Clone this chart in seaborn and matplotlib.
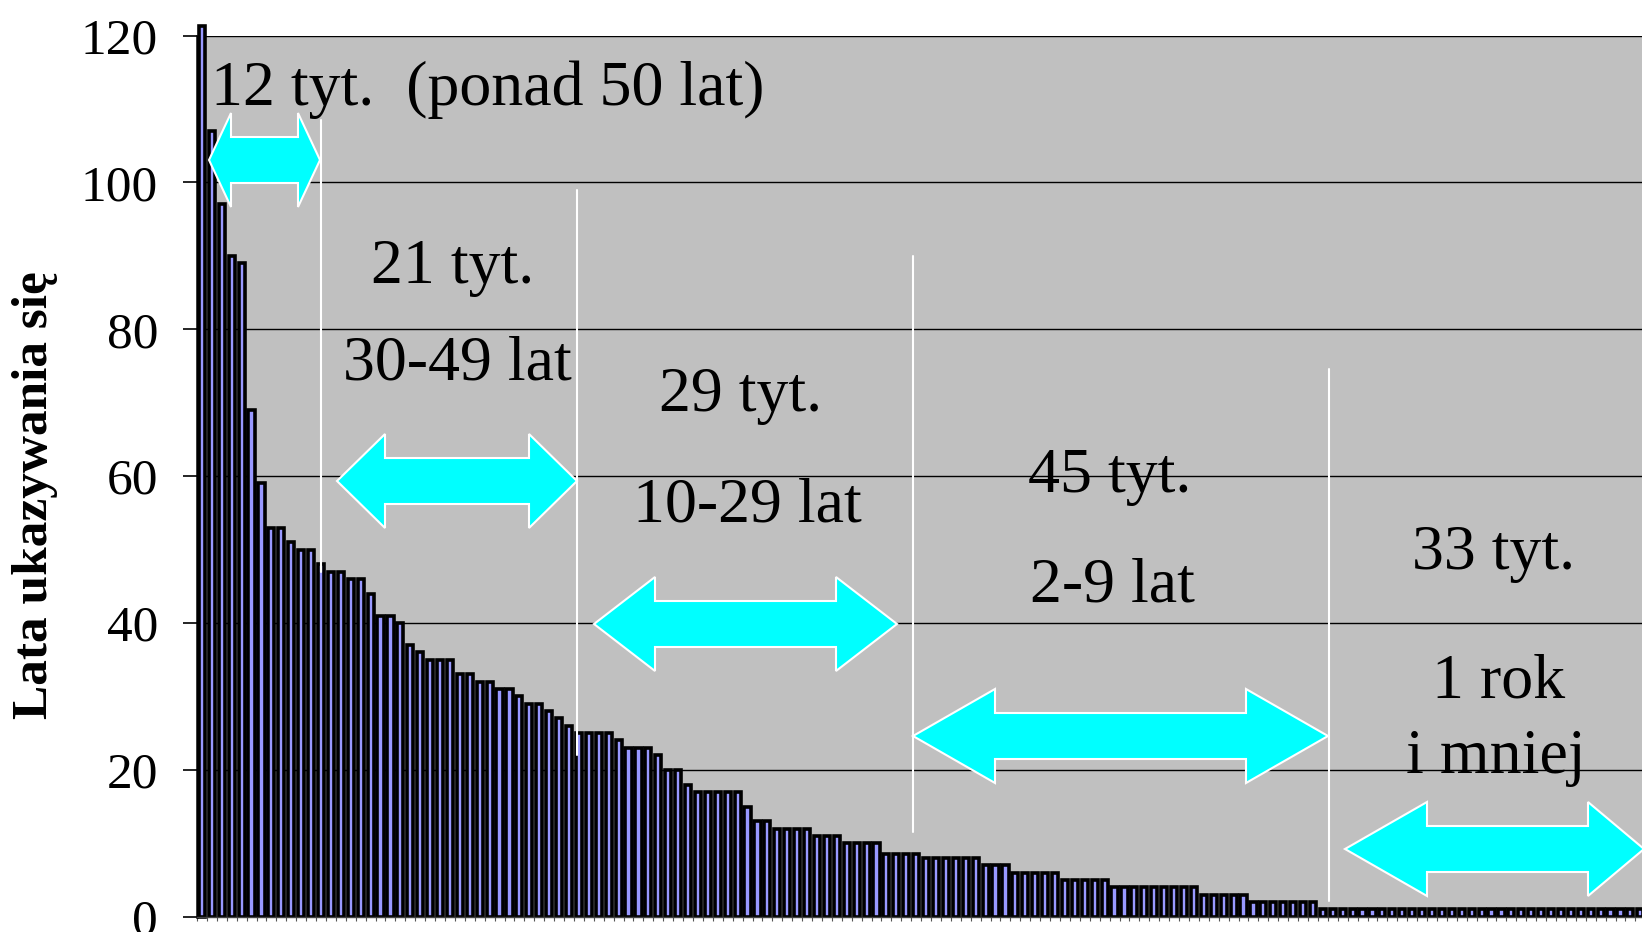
import numpy as np
import pandas as pd
import matplotlib
matplotlib.use("Agg")
import matplotlib.pyplot as plt
from matplotlib.patches import Polygon
import seaborn as sns

# lata ukazywania sie - kolejne tytuly, posortowane malejaco
over_50 = [121.3, 107, 97, 90, 89, 69, 59, 53, 53, 51, 50, 50]
y30_49 = [48, 47, 47, 46, 46, 44, 41, 41, 40, 37, 36, 35, 35, 35, 33, 33, 32, 32, 31, 31, 30]
y10_29 = [29, 29, 28, 27, 26, 25, 25, 25, 25, 24, 23, 23, 23, 22, 20, 20, 18,
          17, 17, 17, 17, 17, 15, 13, 13, 12, 12, 12, 12, 11, 11, 11, 10, 10, 10, 10]
y2_9 = [8.6] * 4 + [8] * 6 + [7] * 3 + [6] * 5 + [5] * 5 + [4] * 9 + [3] * 5 + [2] * 7
y1 = [1] * 33

values = over_50 + y30_49 + y10_29 + y2_9 + y1
df = pd.DataFrame({"nr": np.arange(len(values)), "lata": values})

yticks = [0, 20, 40, 60, 80, 100, 120]
ylabel = "Lata ukazywania się"

# opisy grup: tekst, srodek x, linia bazowa y (piksele rysunku)
notes = [("12 tyt.  (ponad 50 lat)", 488, 105),
         ("21 tyt.", 453, 283), ("30-49 lat", 457, 379),
         ("29 tyt.", 741, 411), ("10-29 lat", 747, 522),
         ("45 tyt.", 1110, 492), ("2-9 lat", 1112, 602),
         ("33 tyt.", 1494, 569), ("1 rok", 1499, 697), ("i mniej", 1496, 773)]

# strzalki: x0, x1, yc, grot lewy, grot prawy (piksele rysunku)
arrows = [(209, 320, 160, 22, 22),
          (337, 577, 481, 48, 48),
          (594, 897, 624, 61, 61),
          (913, 1328, 736, 82, 82),
          (1345, 1644, 849, 82, 56)]

# biale linie podzialu: pozycja w numerach slupkow, od, do
dividers = [(11.95, 47, 108.5), (37.8, 22, 99), (71.7, 11.5, 90), (113.6, 2.2, 74.6)]

W, H = 1642, 932
sns.set_style("ticks")
plt.rcParams["font.family"] = ["Liberation Serif", "DejaVu Serif"]
plt.rcParams["text.color"] = "black"
plt.rcParams["axes.labelcolor"] = "black"
plt.rcParams["ytick.color"] = "black"
plt.rcParams["ytick.labelcolor"] = "black"

fig = plt.figure(figsize=(W / 100, H / 100), dpi=100)
ax = fig.add_axes([197 / W, 1 - 916.7 / H, 1445 / W, 881.1 / H])
ax.set_facecolor("#C0C0C0")

sns.barplot(data=df, x="nr", y="lata", color="#9999FF", saturation=1,
            edgecolor="black", width=0.62, ax=ax, zorder=2)
for p in ax.patches:
    p.set_linewidth(2.6)
    p.set_edgecolor("black")
ax.patches[0].set_clip_on(False)

ax.set_xlim(-0.5, 145.17)
ax.set_ylim(0, 120)
ax.set_yticks(yticks)
ax.set_yticklabels([str(t) for t in yticks], fontsize=37, color="black")
ax.set_xticks(np.arange(len(values)) - 0.5)
ax.set_xticklabels([])
ax.tick_params(axis="x", length=3, width=0.8, color="#555555")
ax.tick_params(axis="y", length=10, width=1.2, pad=18, color="black")
ax.set_xlabel("")
ax.set_ylabel(ylabel, fontsize=37, fontweight="bold", ha="center", va="center",
              color="black")
ax.yaxis.set_label_coords(-0.112, 0.479)

ax.set_axisbelow(True)
ax.yaxis.grid(True, color="black", linewidth=1.0)
ax.xaxis.grid(False)
for s in ["top", "right"]:
    ax.spines[s].set_visible(False)
ax.spines["left"].set_linewidth(1.8)
ax.spines["left"].set_color("black")
ax.spines["bottom"].set_linewidth(1.0)
ax.spines["bottom"].set_color("#444444")

for x, y0, y1_ in dividers:
    ax.plot([x, x], [y0, y1_], color="white", linewidth=1.5, zorder=4)


def fx(x):
    return x / W


def fy(y):
    return 1 - y / H


hh, sh = 47, 23
for x0, x1, yc, hl, hr in arrows:
    pts = [(x0, yc), (x0 + hl, yc - hh), (x0 + hl, yc - sh), (x1 - hr, yc - sh),
           (x1 - hr, yc - hh), (x1, yc), (x1 - hr, yc + hh), (x1 - hr, yc + sh),
           (x0 + hl, yc + sh), (x0 + hl, yc + hh)]
    poly = Polygon([(fx(a), fy(b)) for a, b in pts], closed=True,
                   facecolor="#00FFFF", edgecolor="white", linewidth=1.5,
                   transform=fig.transFigure, zorder=5)
    fig.add_artist(poly)

for txt, x, y in notes:
    fig.text(fx(x), fy(y), txt, fontsize=46, ha="center", va="baseline",
             color="black", zorder=6)

plt.savefig("out.png", dpi=100)
